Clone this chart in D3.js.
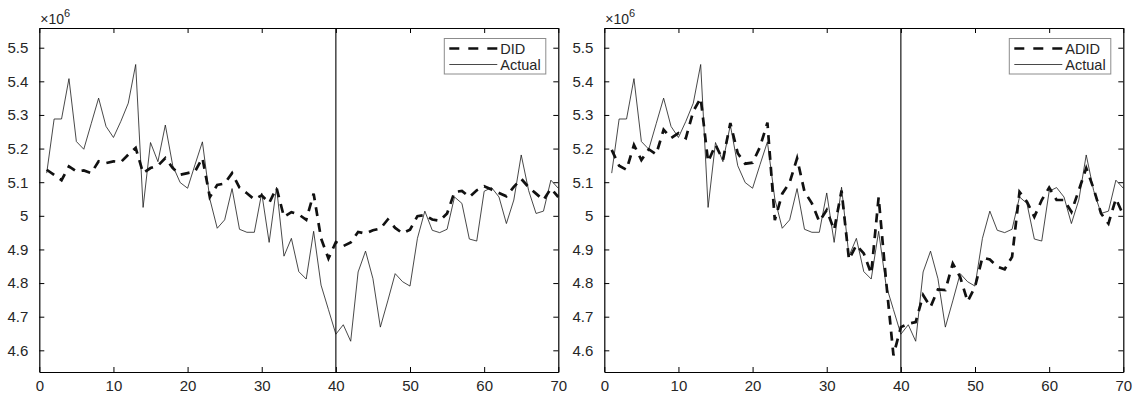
<!DOCTYPE html>
<html>
<head>
<meta charset="utf-8">
<script src="https://cdn.jsdelivr.net/npm/d3@7"></script>
<style>
  html, body { margin: 0; padding: 0; background: #fff; }
  svg { display: block; }
  text { font-family: "Liberation Sans", Arial, Helvetica, sans-serif; fill: #262626; }
</style>
</head>
<body>
<svg id="chart" width="1135" height="394"></svg>
<script>
// ---- data (values in units of 10^6) ----
const periods = d3.range(1, 71);
const actual = [5.127,5.288,5.288,5.408,5.221,5.198,5.274,5.350,5.266,5.233,
                5.281,5.335,5.450,5.025,5.218,5.161,5.270,5.149,5.099,5.082,
                5.152,5.220,5.050,4.963,4.988,5.081,4.960,4.951,4.951,5.068,
                4.921,5.085,4.880,4.933,4.834,4.812,4.954,4.794,4.721,4.648,
                4.676,4.627,4.833,4.895,4.813,4.669,4.747,4.828,4.804,4.791,
                4.933,5.014,4.957,4.950,4.960,5.056,5.037,4.931,4.925,5.073,
                5.084,5.056,4.977,5.047,5.181,5.075,5.007,5.014,5.106,5.082];
const did = [5.137,5.122,5.106,5.147,5.132,5.135,5.127,5.162,5.157,5.162,
             5.160,5.182,5.202,5.127,5.142,5.149,5.172,5.142,5.122,5.127,
             5.132,5.172,5.056,5.092,5.096,5.127,5.084,5.067,5.049,5.061,
             5.038,5.083,4.997,5.011,5.004,4.988,5.066,4.933,4.873,4.922,
             4.910,4.921,4.952,4.947,4.957,4.962,4.989,4.964,4.948,4.959,
             4.999,5.002,4.989,4.985,5.007,5.071,5.074,5.056,5.076,5.088,
             5.078,5.068,5.058,5.086,5.110,5.085,5.066,5.047,5.081,5.056];
const adid = [5.196,5.149,5.137,5.211,5.166,5.198,5.183,5.256,5.231,5.246,
              5.231,5.311,5.350,5.161,5.211,5.166,5.276,5.186,5.155,5.158,
              5.205,5.277,4.987,5.066,5.099,5.171,5.072,5.037,4.983,5.017,
              4.958,5.075,4.870,4.913,4.888,4.828,5.055,4.808,4.585,4.669,
              4.679,4.684,4.764,4.729,4.781,4.779,4.858,4.818,4.745,4.789,
              4.876,4.870,4.849,4.841,4.878,5.071,5.042,4.997,5.047,5.084,
              5.047,5.047,5.012,5.076,5.142,5.081,5.007,4.977,5.051,5.002];
const xTicks = [0, 10, 20, 30, 40, 50, 60, 70];
const yTicks = [4.6, 4.7, 4.8, 4.9, 5.0, 5.1, 5.2, 5.3, 5.4, 5.5];
const eventPeriod = 40;
const panels = [
  { model: did,  name: "DID" },
  { model: adid, name: "ADID" }
];

// ---- layout ----
const svg = d3.select("#chart");
const plotTop = 28, plotBottom = 372;
const lefts = [39.3, 604.3], plotWidth = 519;
const y = d3.scaleLinear().domain([4.5355, 5.5586]).range([plotBottom, plotTop]);
const fmt = d => (Math.abs(d - 5) < 1e-9 ? "5" : d3.format(".1f")(d));

panels.forEach((p, i) => {
  const x0 = lefts[i];
  const x = d3.scaleLinear().domain([0, 70]).range([x0, x0 + plotWidth]);
  const g = svg.append("g");

  // axes (MATLAB style: inward ticks on all four sides)
  const axB = d3.axisBottom(x).tickValues(xTicks).tickSizeInner(-5).tickSizeOuter(0).tickPadding(8).tickFormat(d3.format("d"));
  const axT = d3.axisTop(x).tickValues(xTicks).tickSizeInner(-5).tickSizeOuter(0).tickFormat("");
  const axL = d3.axisLeft(y).tickValues(yTicks).tickSizeInner(-5).tickSizeOuter(0).tickPadding(11).tickFormat(fmt);
  const axR = d3.axisRight(y).tickValues(yTicks).tickSizeInner(-5).tickSizeOuter(0).tickFormat("");

  [[axB, `translate(0,${plotBottom})`], [axT, `translate(0,${plotTop})`],
   [axL, `translate(${x0},0)`], [axR, `translate(${x0 + plotWidth},0)`]].forEach(([ax, tr]) => {
    const a = g.append("g").attr("transform", tr).call(ax);
    a.attr("font-size", 15);
    a.select(".domain").attr("stroke", "#000").attr("stroke-width", 1.2);
    a.selectAll(".tick line").attr("stroke", "#000").attr("stroke-width", 1);
    a.selectAll("text").attr("font-size", 15).attr("fill", "#262626")
      .style("font-family", '"Liberation Sans", Arial, sans-serif');
  });

  // exponent label
  const ex = g.append("text").attr("x", x0 + 1).attr("y", 24).attr("font-size", 14);
  ex.append("tspan").text("\u00d710");
  ex.append("tspan").attr("dy", -7).attr("font-size", 11).text("6");

  // intervention line
  g.append("line")
    .attr("x1", x(eventPeriod)).attr("x2", x(eventPeriod))
    .attr("y1", plotTop).attr("y2", plotBottom)
    .attr("stroke", "#000").attr("stroke-width", 1.1);

  const line = d3.line().x((d, j) => x(periods[j])).y(d => y(d));

  // actual
  g.append("path").datum(actual)
    .attr("d", line).attr("fill", "none")
    .attr("stroke", "#1a1a1a").attr("stroke-width", 0.8).attr("stroke-linejoin", "miter");

  // model
  g.append("path").datum(p.model)
    .attr("d", line).attr("fill", "none")
    .attr("stroke", "#111").attr("stroke-width", 2.7)
    .attr("stroke-dasharray", "9,7");

  // legend
  const lx = x0 + 405, ly = 38.5;
  const lg = g.append("g");
  lg.append("rect").attr("x", lx).attr("y", ly).attr("width", 101.5).attr("height", 35.5)
    .attr("fill", "#fff").attr("stroke", "#8c8c8c").attr("stroke-width", 1);
  lg.append("line").attr("x1", lx + 5).attr("x2", lx + 53).attr("y1", ly + 10).attr("y2", ly + 10)
    .attr("stroke", "#111").attr("stroke-width", 2.7).attr("stroke-dasharray", "10,9");
  lg.append("line").attr("x1", lx + 5).attr("x2", lx + 53).attr("y1", ly + 26).attr("y2", ly + 26)
    .attr("stroke", "#1a1a1a").attr("stroke-width", 0.8);
  lg.append("text").attr("x", lx + 56).attr("y", ly + 15).attr("font-size", 14.5).text(p.name);
  lg.append("text").attr("x", lx + 56).attr("y", ly + 31).attr("font-size", 14.5).text("Actual");
});
</script>
</body>
</html>
